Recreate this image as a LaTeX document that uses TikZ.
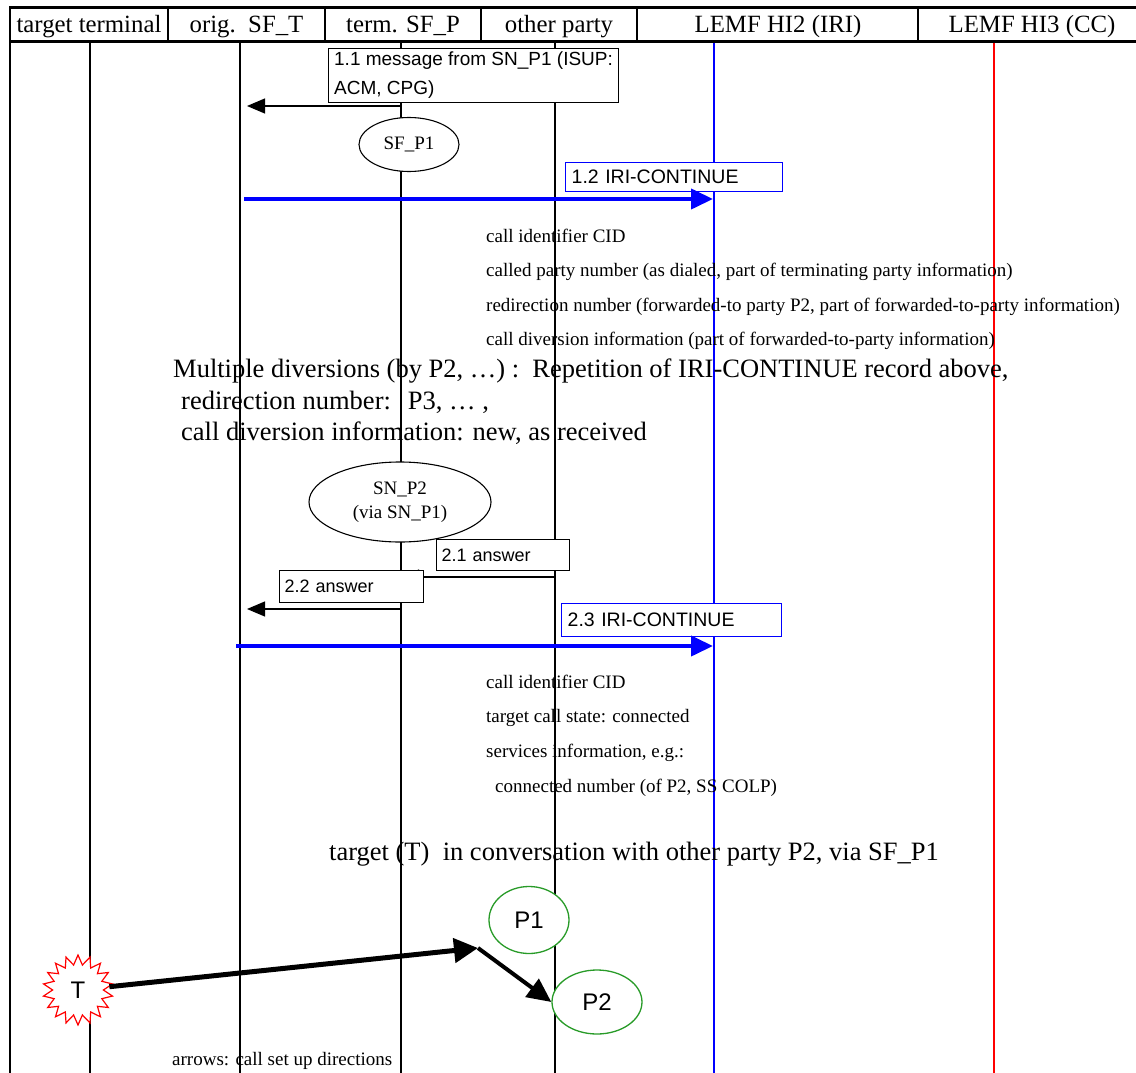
\documentclass[tikz,border=0pt]{standalone}
\usepackage{fontspec}
\setmainfont{Liberation Serif}
\newfontfamily\lsans{Liberation Sans}
\usetikzlibrary{arrows.meta,shapes.geometric,calc}
\definecolor{pgreen}{RGB}{40,155,40}
\tikzset{
  lifeline/.style={line width=1.1pt},
  hdr/.style={font=\fontsize{24.8}{28}\selectfont, anchor=base, inner sep=0pt},
  small/.style={font=\fontsize{19}{22}\selectfont, anchor=base west, inner sep=0pt},
  big/.style={font=\fontsize{26.5}{30}\selectfont, anchor=base west, inner sep=0pt},
  msgbox/.style={draw, line width=1.1pt, fill=white, anchor=north west, inner xsep=5pt, inner ysep=0pt, align=left},
  iribox/.style={msgbox, draw=blue, line width=1.4pt, inner xsep=6pt, font=\lsans\fontsize{19.5}{22}\selectfont},
  ansbox/.style={msgbox, font=\lsans\fontsize{18}{21}\selectfont},
  msg/.style={line width=1.2pt, -{Triangle[length=18pt,width=15pt]}},
  iri/.style={draw=blue, line width=4pt, -{Triangle[length=22pt,width=20pt]}},
  entity/.style={ellipse, draw, line width=1.1pt, fill=white, inner sep=0pt, font=\fontsize{19}{24}\selectfont, align=center},
  party/.style={ellipse, draw=pgreen, line width=1.3pt, fill=white, inner sep=0pt, font=\lsans\fontsize{24}{26}\selectfont},
  callarrow/.style={line width=5pt, -{Triangle[length=24pt,width=24pt]}}
}
\begin{document}
\begin{tikzpicture}[x=1pt,y=-1pt]
\useasboundingbox (0,0) rectangle (1136,1073);
% lifeline coordinates
\foreach \n/\x in {lt/90, lo/240, lp/401, lq/555, lh/714, lc/994}{
  \coordinate (\n top) at (\x,43);
  \coordinate (\n bot) at (\x,1073);
}
% header frame
\draw[line width=3pt] (10,8) -- (1136,8);
\draw[line width=3pt] (10,42) -- (1136,42);
\draw[line width=2.5pt] (10,6.5) -- (10,1073);
\foreach \x in {168,325,481,637,918}{\draw[line width=2pt] (\x,8) -- (\x,42);}
\node[hdr] (h1) at (89,33) {target terminal};
\node[hdr] (h2) at (246.5,33) {orig.\ \ SF\_T};
\node[hdr] (h3) at (403,33) {term. SF\_P};
\node[hdr] (h4) at (559,33) {other party};
\node[hdr] (h5) at (778,33) {LEMF HI2 (IRI)};
\node[hdr] (h6) at (1032,33) {LEMF HI3 (CC)};
% lifelines
\draw[lifeline] (lttop) -- (ltbot);
\draw[lifeline] (lotop) -- (lobot);
\draw[lifeline] (lptop) -- (lpbot);
\draw[lifeline] (lqtop) -- (lqbot);
\draw[lifeline, blue] (lhtop) -- (lhbot);
\draw[lifeline, red] (lctop) -- (lcbot);

% 1.1
\node[msgbox, font=\lsans\fontsize{19}{29}\selectfont, minimum width=290pt, minimum height=54pt] (b11) at (328,48) {1.1 message from SN\_P1 (ISUP:\\ACM, CPG)};
\coordinate (a11s) at (401,106);
\coordinate (a11e) at (247,106);
\draw[msg] (a11s) -- (a11e);
\node[entity, minimum width=100pt, minimum height=54pt] (sfp1) at (409,144.5) {SF\_P1};

% 1.2
\node[iribox, text width=205pt, minimum height=29pt] (b12) at (565,162) {1.2 IRI-CONTINUE};
\coordinate (a12s) at (244,199);
\coordinate (a12e) at (713,199);
\draw[iri] (a12s) -- (a12e);

\node[small] (t1) at (486,242) {call identifier CID};
\node[small] (t2) at (486,276) {called party number (as dialed, part of terminating party information)};
\node[small] (t3) at (486,311) {redirection number (forwarded-to party P2, part of forwarded-to-party information)};
\node[small] (t4) at (486,345) {call diversion information (part of forwarded-to-party information)};

\node[big] (m1) at (173,377) {Multiple diversions (by P2, …) :\ \ Repetition of IRI-CONTINUE record above,};
\node[big] (m2) at (181,409) {redirection number:\hspace{17pt}P3, … ,};
\node[big] (m3) at (181,440) {call diversion information: new, as received};

% 2
\node[entity, minimum width=182pt, minimum height=80pt] (snp2) at (400,502) {SN\_P2\\(via SN\_P1)};
\node[ansbox, text width=123pt, minimum height=31pt] (b21) at (436,539) {2.1 answer};
\coordinate (a21s) at (555,577);
\coordinate (a21e) at (401,577);
\draw[msg] (a21s) -- (a21e);
\node[ansbox, text width=134pt, minimum height=32pt] (b22) at (279,570) {2.2 answer};
\coordinate (a22s) at (401,609);
\coordinate (a22e) at (247,609);
\draw[msg] (a22s) -- (a22e);

\node[iribox, text width=208pt, minimum height=33pt] (b23) at (561,603) {2.3 IRI-CONTINUE};
\coordinate (a23s) at (236,646);
\coordinate (a23e) at (713,646);
\draw[iri] (a23s) -- (a23e);

\node[small] (u1) at (486,688) {call identifier CID};
\node[small] (u2) at (486,722) {target call state: connected};
\node[small] (u3) at (486,757) {services information, e.g.:};
\node[small] (u4) at (495,792) {connected number (of P2, SS COLP)};

\node[big] (conv) at (329,860) {target (T)\ \ in conversation with other party P2, via SF\_P1};

% bottom scene
\node[party, minimum width=80pt, minimum height=67pt] (P1) at (529,920) {P1};
\node[party, minimum width=90pt, minimum height=64pt] (P2) at (597,1002) {P2};
\node[star, star points=18, star point ratio=1.38, minimum size=70pt, draw=red, line width=1.2pt, fill=white, inner sep=0pt, font=\lsans\fontsize{24}{26}\selectfont] (T) at (78,990) {T};
\coordinate (bend) at (478,948);
\draw[callarrow] (T) -- (bend);
\draw[line width=4pt, -{Triangle[length=24pt,width=22pt]}] (bend) -- (P2.west);

\node[small] (foot) at (172,1065) {arrows: call set up directions};
\end{tikzpicture}
\end{document}
